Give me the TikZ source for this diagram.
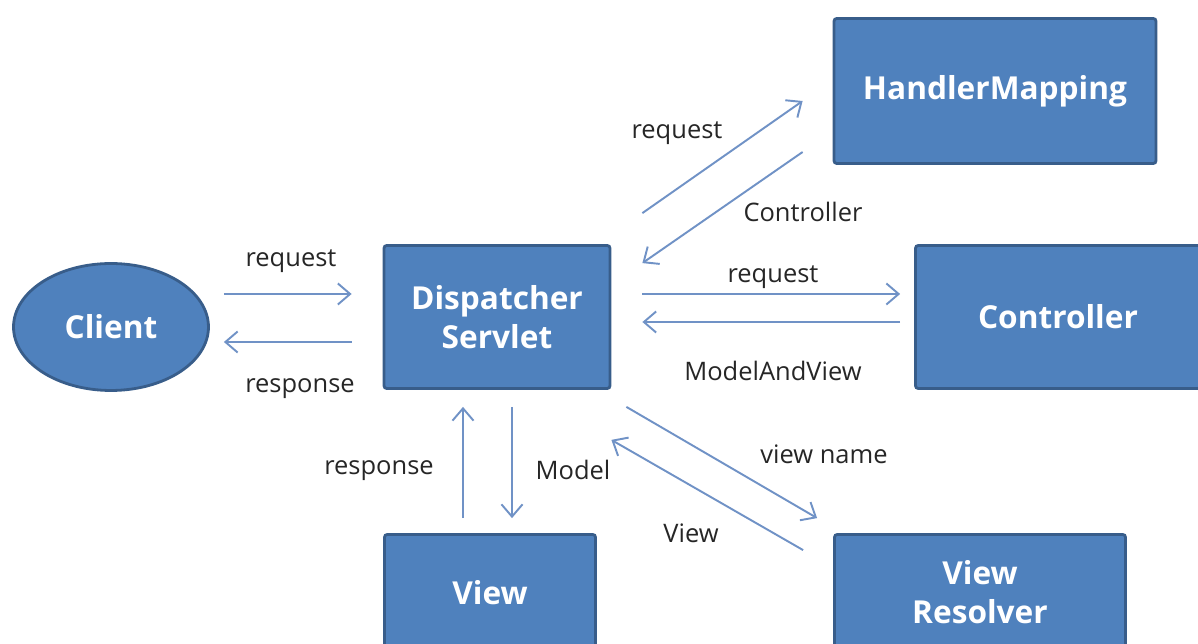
\documentclass[tikz,border=0pt]{standalone}
\usepackage{fontspec}
\setmainfont{Open Sans}
\usetikzlibrary{shapes.geometric,arrows.meta}
\definecolor{boxfill}{HTML}{4F81BD}
\definecolor{boxline}{HTML}{385D8A}
\definecolor{flowline}{HTML}{7092C6}
\definecolor{labeltext}{HTML}{262626}
\tikzset{
  block/.style={draw=boxline, fill=boxfill, line width=1.6pt, text=white,
    font=\bfseries\fontsize{18}{22}\selectfont, align=center, inner sep=0pt},
  box/.style={block, rounded corners=1.5pt},
  oval/.style={block, ellipse},
  flow/.style={draw=flowline, line width=1.1pt, -{Straight Barb[length=7pt,width=12pt]}},
  lbl/.style={text=labeltext, font=\fontsize{14.5}{17}\selectfont, inner sep=0pt}
}

\begin{document}
\begin{tikzpicture}[x=0.02cm, y=-0.02cm]
     \useasboundingbox (0,0) rectangle (1198,644);
     \clip (0,0) rectangle (1198,644);

     \node (client) at (111,327) [oval, minimum width=3.9cm, minimum height=2.54cm] {Client};
     \node (ds) at (497,317) [box, minimum width=4.52cm, minimum height=2.86cm] {Dispatcher\\Servlet};
     \node (hm) at (995,91) [box, minimum width=6.44cm, minimum height=2.9cm] {HandlerMapping};
     \node (ctrl) at (1058,317) [box, minimum width=5.7cm, minimum height=2.86cm] {Controller};
     \node (view) at (490,593) [box, minimum width=4.22cm, minimum height=2.34cm] {View};
     \node (vr) at (980,592) [box, minimum width=5.82cm, minimum height=2.3cm] {View\\Resolver};

     \draw[flow] ([shift={(14,-33)}]client.east) -- ([shift={(-31,-23)}]ds.west);
     \draw[flow] ([shift={(-31,25)}]ds.west) -- ([shift={(14,15)}]client.east);
     \draw[flow] ([shift={(31,-31)}]ds.north east) -- ([shift={(-30,10)}]hm.west);
     \draw[flow] ([shift={(-30,61)}]hm.west) -- ([shift={(31,19)}]ds.north east);
     \draw[flow] ([shift={(31,-23)}]ds.east) -- ([shift={(-14,-23)}]ctrl.west);
     \draw[flow] ([shift={(-14,5)}]ctrl.west) -- ([shift={(31,5)}]ds.east);
     \draw[flow] ([shift={(-27,-15)}]view.north) -- ([shift={(-34,17)}]ds.south);
     \draw[flow] ([shift={(15,17)}]ds.south) -- ([shift={(22,-15)}]view.north);
     \draw[flow] ([shift={(15,17)}]ds.south east) -- ([shift={(-16,-15)}]vr.north west);
     \draw[flow] ([shift={(-30,17)}]vr.north west) -- ([shift={(0,50)}]ds.south east);

     \node (req1) at (291,261) [lbl] {request};
     \node (resp1) at (300,389) [lbl] {response};
     \node (req2) at (677,133) [lbl] {request};
     \node (ctrlname) at (803,212) [lbl] {Controller};
     \node (req3) at (773,277) [lbl] {request};
     \node (mav) at (773,371) [lbl] {ModelAndView};
     \node (resp2) at (379,471) [lbl] {response};
     \node (model) at (573,470) [lbl] {Model};
     \node (vname) at (824,454) [lbl] {view name};
     \node (viewname) at (691,533) [lbl] {View};
\end{tikzpicture}
\end{document}
